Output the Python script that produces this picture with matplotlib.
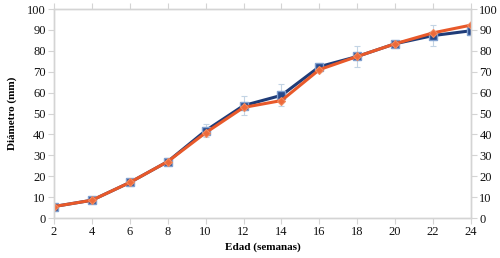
#!/usr/bin/env python3

import matplotlib
matplotlib.use("Agg")
import matplotlib.pyplot as plt

edad = [2, 4, 6, 8, 10, 12, 14, 16, 18, 20, 22, 24]
diam_azul = [5.5, 8.5, 17, 27, 41.8, 53.8, 58.7, 72.4, 77.3, 83.4, 87.3, 89.6]
diam_naranja = [5.5, 8.5, 17, 27, 40.8, 52.9, 56.2, 71.0, 77.3, 83.4, 88.6, 92.3]
err_azul = [1.0, 1.0, 1.5, 1.5, 3.0, 4.5, 5.2, 1.5, 5.0, 1.5, 5.0, 1.5]
yticks = list(range(0, 101, 10))
xticks = list(range(2, 25, 2))

plt.rcParams['font.family'] = ['Liberation Serif', 'DejaVu Serif']

gris = '#d4d4d4'
fig = plt.figure(figsize=(5, 2.58), dpi=100)
ax = fig.add_axes([0.108, 0.155, 0.834, 0.81])

ax.errorbar(edad, diam_azul, yerr=err_azul, fmt='none', ecolor='#c3d4e4',
            elinewidth=0.8, capsize=2.5, capthick=0.8, zorder=1)
ax.plot(edad, diam_azul, color='#1f3c78', lw=2.2, marker='s', ms=5.5,
        mfc='#27498a', mec='#7f9fcf', mew=1.0, zorder=2)
ax.plot(edad, diam_naranja, color='#e8592a', lw=2.2, marker='D', ms=4,
        mfc='#ee6a3a', mec='#f08a5f', mew=0.8, zorder=3)

ax.set_xlim(2, 24)
ax.set_ylim(0, 100)
ax.set_xticks(xticks)
ax.set_yticks(yticks)

ax2 = ax.twinx()
ax2.set_ylim(0, 100)
ax2.set_yticks(yticks)

axt = ax.twiny()
axt.set_xlim(2, 24)
axt.set_xticks(xticks)
axt.set_xticklabels([])

for a in (ax, ax2, axt):
    for s in a.spines.values():
        s.set_color(gris)
        s.set_linewidth(0.9)
    a.tick_params(direction='out', length=4, width=0.8, color=gris,
                  labelsize=9, labelcolor='#111111', pad=2)

ax.set_xlabel('Edad (semanas)', fontsize=8, fontweight='bold', labelpad=3)
ax.set_ylabel('Diámetro (mm)', fontsize=8, fontweight='bold', labelpad=7)

fig.savefig('out.png', dpi=100)
